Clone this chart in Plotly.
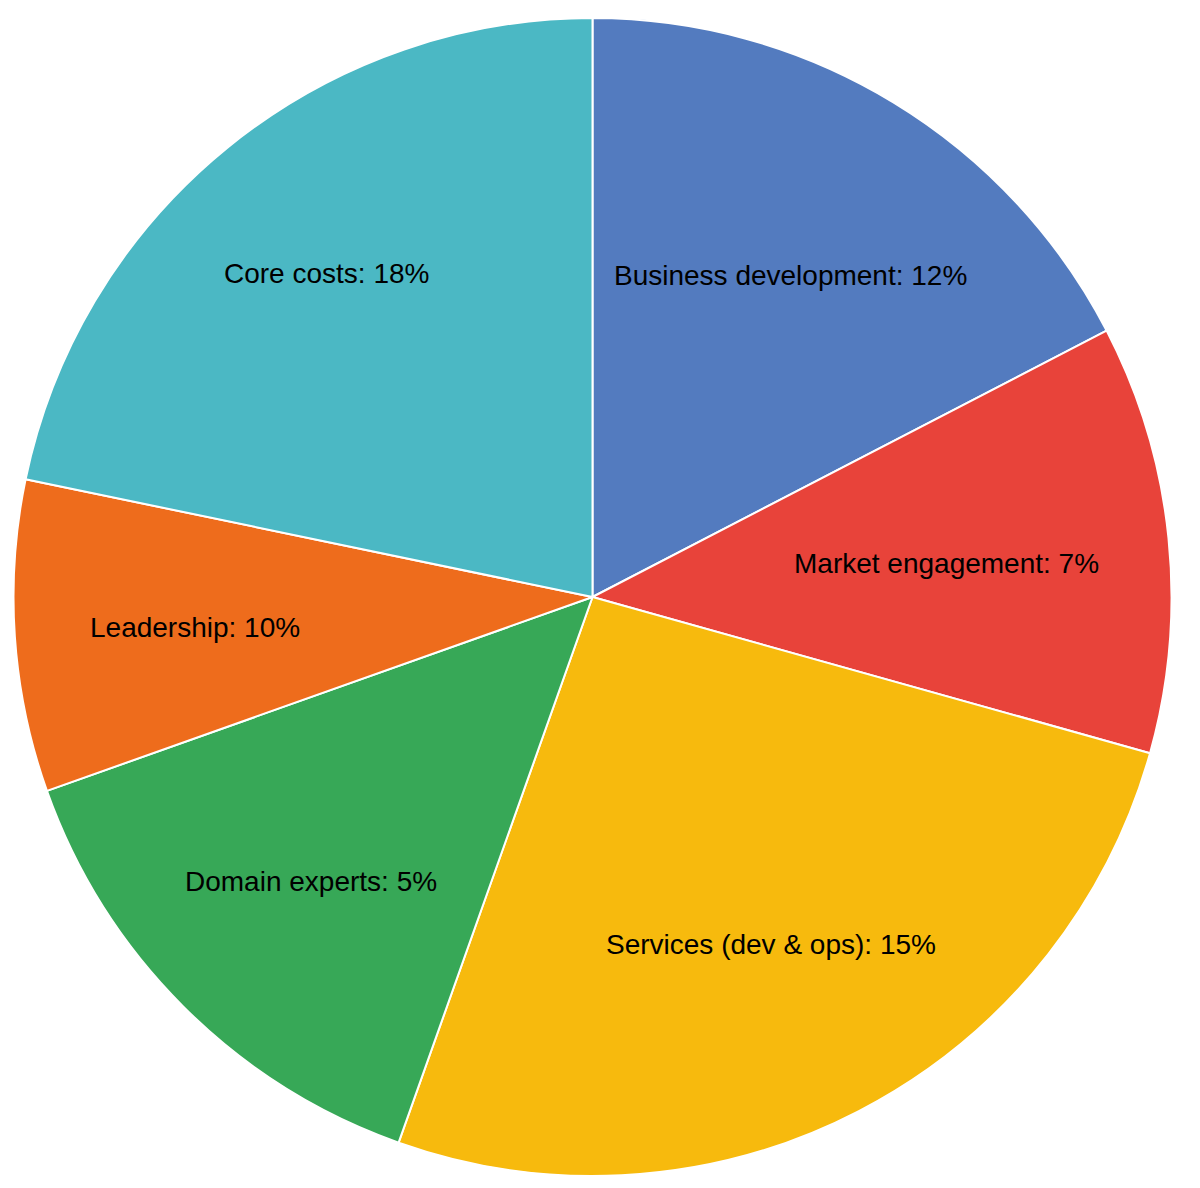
import math
import plotly.graph_objects as go

categories = ["Business development", "Market engagement", "Services (dev & ops)",
              "Domain experts", "Leadership", "Core costs"]
label_pct = ["12%", "7%", "15%", "5%", "10%", "18%"]
slice_values = [12, 8.25, 18, 9.75, 6, 15]
colors = ["#537bbf", "#e8433a", "#f7ba0d", "#37a857", "#ee6c1c", "#4bb8c4"]

texts = [f"{c}: {p}" for c, p in zip(categories, label_pct)]

W, H = 1200, 1188
ML, MR, MT, MB = 0, 31, 10, 20
FONT_SIZE = 28

fig = go.Figure(go.Pie(
    labels=categories,
    values=slice_values,
    text=texts,
    textinfo="none",
    sort=False,
    direction="clockwise",
    rotation=0,
    marker=dict(colors=colors, line=dict(color="white", width=2)),
    showlegend=False,
    hoverinfo="text",
    hovertext=texts,
))

# Label placement derived from the pie geometry (mid-angle of each slice)
pw, ph = W - ML - MR, H - MT - MB
R = min(pw, ph) / 2.0
cx, cy = ML + pw / 2.0, MT + ph / 2.0
total = sum(slice_values)
D = 0.87 * R  # farthest text corner distance from centre
cum = 0.0
for v, t in zip(slice_values, texts):
    phi = math.radians((cum + v / 2.0) / total * 360.0)
    cum += v
    s, c = abs(math.sin(phi)), abs(math.cos(phi))
    hw = 0.5 * 0.5 * FONT_SIZE * len(t)
    hh = 0.5 * FONT_SIZE
    b = hw * s + hh * c
    r = -b + math.sqrt(b * b - (hw * hw + hh * hh - D * D))
    px = cx + r * math.sin(phi)
    py = cy - r * math.cos(phi)
    fig.add_annotation(
        x=(px - ML) / pw, y=1 - (py - MT) / ph,
        xref="paper", yref="paper",
        text=t, showarrow=False,
        xanchor="center", yanchor="middle", yshift=-3,
        font=dict(family="Liberation Sans, Arial, sans-serif", size=FONT_SIZE, color="black"),
    )

fig.update_layout(
    width=W, height=H,
    margin=dict(l=ML, r=MR, t=MT, b=MB),
    paper_bgcolor="white",
)

fig.write_html("out.html")
